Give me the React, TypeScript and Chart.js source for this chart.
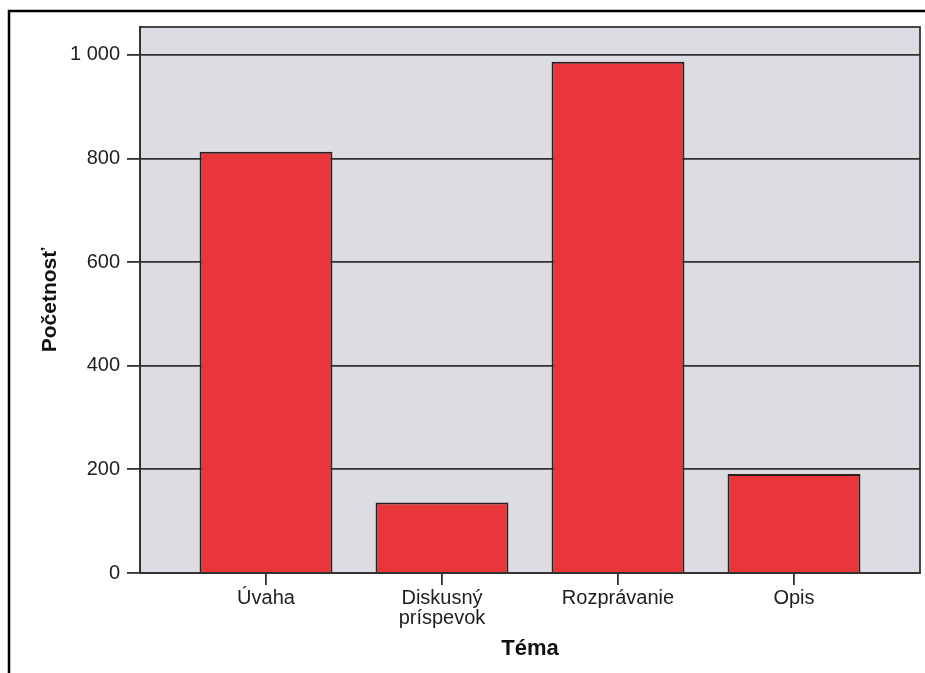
import React, { useEffect, useRef } from 'react';
import { Chart, registerables } from 'chart.js';

Chart.register(...registerables);

const categories = ['Úvaha', 'Diskusný\npríspevok', 'Rozprávanie', 'Opis'];
const values = [813, 136, 987, 191];
const yTicks = [0, 200, 400, 600, 800, 1000];
const yMax = 1054;
const xTitle = 'Téma';
const yTitle = 'Početnosť';

const FONT = "'Liberation Sans', Arial, sans-serif";

const fmt = (v: number) => String(v).replace(/\B(?=(\d{3})+(?!\d))/g, ' ');

const framePlugin = {
  id: 'frame',
  beforeDraw(chart: any) {
    const { ctx, chartArea: a } = chart;
    ctx.save();
    ctx.fillStyle = '#ffffff';
    ctx.fillRect(0, 0, chart.width, chart.height);
    ctx.fillStyle = '#dcdce3';
    ctx.fillRect(a.left, a.top, a.right - a.left, a.bottom - a.top);
    ctx.strokeStyle = '#000000';
    ctx.lineWidth = 2.5;
    ctx.beginPath();
    ctx.moveTo(9, chart.height);
    ctx.lineTo(9, 11);
    ctx.lineTo(chart.width, 11);
    ctx.stroke();
    ctx.restore();
  },
  afterDatasetsDraw(chart: any) {
    const { ctx, chartArea: a } = chart;
    ctx.save();
    ctx.strokeStyle = '#333333';
    ctx.lineWidth = 1.8;
    ctx.strokeRect(a.left, a.top, a.right - a.left, a.bottom - a.top);
    ctx.restore();
  },
};

export default function App() {
  const ref = useRef<HTMLCanvasElement | null>(null);

  useEffect(() => {
    if (!ref.current) return;
    const chart = new Chart(ref.current, {
      type: 'bar',
      data: {
        datasets: [
          {
            data: categories.map((_, i) => ({ x: i, y: values[i] })),
            backgroundColor: '#e8363b',
            borderColor: '#2e1e1e',
            borderWidth: 2,
            categoryPercentage: 1,
            barPercentage: 0.755,
          } as any,
        ],
      },
      options: {
        animation: false,
        responsive: false,
        layout: { padding: { top: 27, right: 5, left: 0, bottom: 0 } },
        plugins: { legend: { display: false }, tooltip: { enabled: false } },
        scales: {
          x: {
            type: 'linear',
            offset: false,
            min: -0.716,
            max: categories.length - 1 + 0.716,
            afterBuildTicks: (s: any) => {
              s.ticks = categories.map((_, i) => ({ value: i }));
            },
            afterFit: (s: any) => {
              s.height = 100;
            },
            grid: {
              display: true,
              offset: false,
              drawOnChartArea: false,
              drawTicks: true,
              tickLength: 12,
              color: '#2e2e2e',
              lineWidth: 1.8,
            },
            border: { display: true, color: '#2e2e2e', width: 2 },
            ticks: {
              autoSkip: false,
              maxRotation: 0,
              padding: 3,
              color: '#1e1e1e',
              font: { family: FONT, size: 20, lineHeight: 1.0 },
              callback: (v: any) => {
                const c = categories[Math.round(Number(v))];
                return c ? c.split('\n') : '';
              },
            },
            title: {
              display: true,
              text: xTitle,
              color: '#111111',
              font: { family: FONT, size: 22, weight: 'bold' },
              padding: { top: 0, bottom: 11 },
            },
          },
          y: {
            min: 0,
            max: yMax,
            afterBuildTicks: (s: any) => {
              s.ticks = yTicks.map((v) => ({ value: v }));
            },
            afterFit: (s: any) => {
              s.width = 140;
            },
            grid: {
              display: true,
              drawTicks: true,
              tickLength: 13,
              color: '#303030',
              lineWidth: 1.8,
            },
            border: { display: true, color: '#2e2e2e', width: 2 },
            ticks: {
              padding: 7,
              color: '#1e1e1e',
              font: { family: FONT, size: 20 },
              callback: (v: any) => fmt(Number(v)),
            },
            title: {
              display: true,
              text: yTitle,
              color: '#111111',
              font: { family: FONT, size: 21, weight: 'bold' },
              padding: { top: 38, bottom: 0 },
            },
          },
        },
      },
      plugins: [framePlugin],
    } as any);
    return () => chart.destroy();
  }, []);

  return (
    <div style={{ position: 'absolute', left: 0, top: 0, width: 925, height: 673 }}>
      <canvas ref={ref} width={925} height={673} style={{ width: 925, height: 673, display: 'block' }} />
    </div>
  );
}
